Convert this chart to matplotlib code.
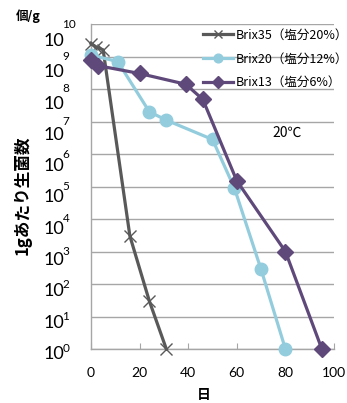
import matplotlib
matplotlib.use("Agg")
import matplotlib.pyplot as plt

# データ（日数と1gあたり生菌数）
days_b35 = [0, 2, 5, 16, 24, 31]
cnt_b35 = [2.5e9, 2.0e9, 1.6e9, 3.0e3, 3.0e1, 1.0]

days_b20 = [0, 11, 24, 31, 50, 59, 70, 80]
cnt_b20 = [1.1e9, 7.0e8, 2.0e7, 1.1e7, 2.8e6, 9.0e4, 2.8e2, 1.0]

days_b13 = [0, 3, 20, 39, 46, 60, 80, 95]
cnt_b13 = [8.0e8, 5.2e8, 3.0e8, 1.4e8, 4.8e7, 1.5e5, 1.0e3, 1.0]

labels = ["Brix35（塩分20%）", "Brix20（塩分12%）", "Brix13（塩分6%）"]
x_ticks = [0, 20, 40, 60, 80, 100]
exponents = list(range(0, 11))

jp = ["Noto Sans CJK JP", "DejaVu Sans"]
num = ["Lato", "DejaVu Sans"]

fig = plt.figure(figsize=(3.47, 4.03), dpi=100)
ax = fig.add_axes([91/347, 1-349/403, 243/347, 325/403])

ax.plot(days_b35, cnt_b35, color="#595959", lw=2.3, marker="x", ms=8,
        mew=1.0, clip_on=False, label=labels[0], zorder=3)
ax.plot(days_b20, cnt_b20, color="#93CDDD", lw=2.3, marker="o", ms=9,
        clip_on=False, label=labels[1], zorder=4)
ax.plot(days_b13, cnt_b13, color="#5F497A", lw=2.3, marker="D", ms=8.5,
        clip_on=False, label=labels[2], zorder=5)

ax.set_yscale("log")
ax.set_xlim(0, 100)
ax.set_ylim(1, 1e10)
ax.set_yticks([10.0**k for k in exponents])
ax.set_yticklabels([])
ax.minorticks_off()
ax.yaxis.grid(True, color="#A6A6A6", lw=1)
ax.tick_params(axis="y", length=0)

ax.set_xticks(x_ticks)
ax.set_xticklabels([str(v) for v in x_ticks], fontsize=10, family=num)
ax.tick_params(axis="x", direction="in", length=4, color="#A6A6A6", pad=13)

for s in ["top", "right"]:
    ax.spines[s].set_visible(False)
for s in ["left", "bottom"]:
    ax.spines[s].set_color("#A6A6A6")
    ax.spines[s].set_linewidth(1)

# 縦軸ラベル 10^n
for k in exponents:
    off = 5 + 1.2 * k
    ax.annotate("10", xy=(0, 10.0**k), xycoords=("axes fraction", "data"),
                xytext=(-27, -off*0.72), textcoords="offset points",
                ha="center", va="center", fontsize=13, family=num,
                annotation_clip=False)
    ax.annotate(str(k), xy=(0, 10.0**k), xycoords=("axes fraction", "data"),
                xytext=(-20.5, 0), textcoords="offset points",
                ha="left", va="center", fontsize=8.5, family=num,
                annotation_clip=False)

leg = ax.legend(loc="upper left", bbox_to_anchor=(199/347, 1-25/403),
                bbox_transform=fig.transFigure, frameon=False,
                prop={"family": jp, "size": 9}, handlelength=2.4,
                handletextpad=0.25, labelspacing=0.85, borderaxespad=0,
                borderpad=0.3, markerscale=0.7)

fig.text(287/347, 1-133/403, "20℃", ha="center", va="center",
         fontsize=10, family=jp)
fig.text(28/347, 1-16/403, "個/g", ha="center", va="center",
         fontsize=9, family=jp, fontweight="bold")
fig.text(23/347, 1-195/403, "1gあたり生菌数", ha="center", va="center",
         rotation=90, fontsize=12, family=jp, fontweight="bold")
fig.text(204/347, 1-388/403, "日", ha="center", va="top",
         fontsize=10, family=jp, fontweight="bold")

fig.savefig("out.png", dpi=100)
